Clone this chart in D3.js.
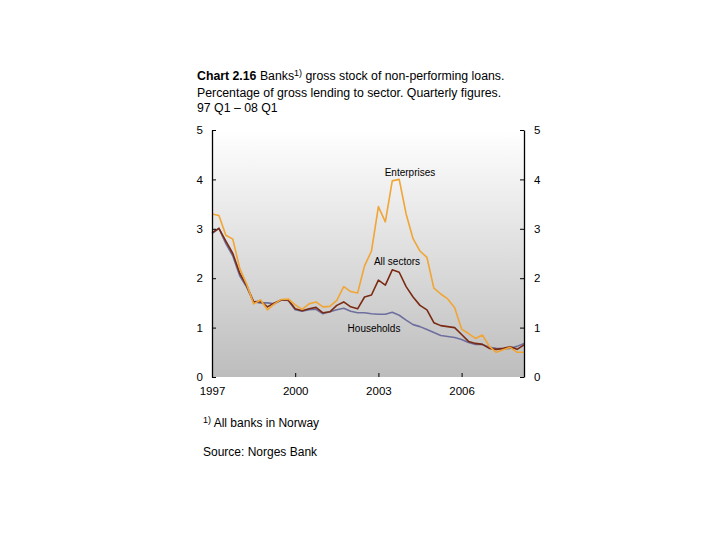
<!DOCTYPE html>
<html>
<head>
<meta charset="utf-8">
<style>
  body { margin: 0; background: #fff; }
  svg text { font-family: "Liberation Sans", Arial, sans-serif; fill: #000; }
</style>
</head>
<body>
<div id="viz_area"></div>
<script src="https://d3js.org/d3.v7.min.js"></script>
<script>
// quarters 1997 Q1 .. 2008 Q2 (index along the x axis)
var quarters = [];
for (var yr = 1997; yr <= 2008; yr++) {
  for (var q = 1; q <= 4; q++) {
    if (yr === 2008 && q > 2) break;
    quarters.push(yr + " Q" + q);
  }
}

var yearLabels = ["1997", "2000", "2003", "2006"];
var yearIndex  = [0, 12, 24, 36];
var yTicks = [0, 1, 2, 3, 4, 5];

var enterprises = [3.30, 3.27, 2.87, 2.79, 2.20, 1.88, 1.48, 1.56, 1.36, 1.48,
                   1.57, 1.58, 1.46, 1.37, 1.48, 1.52, 1.42, 1.43, 1.55, 1.83,
                   1.73, 1.70, 2.25, 2.55, 3.45, 3.14, 3.97, 4.00, 3.30, 2.80,
                   2.55, 2.42, 1.80, 1.68, 1.58, 1.40, 0.97, 0.88, 0.78, 0.85,
                   0.62, 0.50, 0.55, 0.60, 0.50, 0.50];

var allSectors = [2.92, 3.01, 2.75, 2.50, 2.10, 1.85, 1.52, 1.53, 1.42, 1.50,
                  1.56, 1.56, 1.38, 1.34, 1.38, 1.41, 1.30, 1.32, 1.45, 1.52,
                  1.42, 1.38, 1.62, 1.66, 1.96, 1.86, 2.17, 2.12, 1.83, 1.62,
                  1.45, 1.36, 1.10, 1.04, 1.02, 1.00, 0.86, 0.72, 0.68, 0.66,
                  0.58, 0.56, 0.58, 0.61, 0.56, 0.65];

var households = [2.90, 3.01, 2.70, 2.45, 2.05, 1.82, 1.52, 1.50, 1.50, 1.48,
                  1.56, 1.55, 1.36, 1.33, 1.36, 1.37, 1.28, 1.32, 1.36, 1.39,
                  1.33, 1.30, 1.30, 1.28, 1.27, 1.27, 1.31, 1.25, 1.15, 1.06,
                  1.02, 0.96, 0.90, 0.84, 0.82, 0.80, 0.76, 0.70, 0.66, 0.66,
                  0.60, 0.58, 0.57, 0.58, 0.62, 0.68];

var series = [
  {name: "Households",  values: households,  color: "#6f6f9f", label: [374, 332]},
  {name: "All sectors", values: allSectors,  color: "#7a2a12", label: [397, 265]},
  {name: "Enterprises", values: enterprises, color: "#f0a535", label: [410, 176]}
];

var W = 720, H = 540;
var plot = {left: 212, right: 524, top: 130, bottom: 377};

var svg = d3.select("#viz_area").append("svg")
    .attr("width", W).attr("height", H);

// background gradient of the plot area
var grad = svg.append("defs").append("linearGradient")
    .attr("id", "bg").attr("x1", 0).attr("y1", 0).attr("x2", 0).attr("y2", 1);
grad.append("stop").attr("offset", "0%").attr("stop-color", "#ffffff");
grad.append("stop").attr("offset", "100%").attr("stop-color", "#bdbdbd");

svg.append("rect")
    .attr("x", plot.left).attr("y", plot.top)
    .attr("width", plot.right - plot.left).attr("height", plot.bottom - plot.top)
    .attr("fill", "url(#bg)");

var x = d3.scaleLinear().domain([0, quarters.length - 1]).range([plot.left, plot.right]);
var y = d3.scaleLinear().domain([0, 5]).range([plot.bottom, plot.top]);

// title
var title = svg.append("text").attr("x", 197).attr("y", 80).style("font-size", "12.3px");
title.append("tspan").style("font-weight", "bold").text("Chart 2.16");
title.append("tspan").text(" Banks");
title.append("tspan").attr("dy", -4).style("font-size", "9px").text("1)");
title.append("tspan").attr("dy", 4).text(" gross stock of non-performing loans.");
svg.append("text").attr("x", 197).attr("y", 97).style("font-size", "12.3px")
    .text("Percentage of gross lending to sector. Quarterly figures.");
svg.append("text").attr("x", 197).attr("y", 112).style("font-size", "12.3px")
    .text("97 Q1 \u2013 08 Q1");

// lines
var line = d3.line()
    .x(function(d, i) { return x(i); })
    .y(function(d) { return y(d); });

series.forEach(function(s) {
  svg.append("path")
      .datum(s.values)
      .attr("fill", "none")
      .attr("stroke", s.color)
      .attr("stroke-width", 1.6)
      .attr("stroke-linejoin", "round")
      .attr("d", line);
  svg.append("text")
      .attr("x", s.label[0]).attr("y", s.label[1])
      .attr("text-anchor", "middle")
      .style("font-size", "10px")
      .text(s.name);
});

// axes
var fmt = d3.format("d");
var yl = svg.append("g").attr("transform", "translate(" + plot.left + ",0)")
    .call(d3.axisLeft(y).tickValues(yTicks).tickFormat(fmt)
      .tickSizeInner(-4).tickSizeOuter(0).tickPadding(9));
var yr2 = svg.append("g").attr("transform", "translate(" + plot.right + ",0)")
    .call(d3.axisRight(y).tickValues(yTicks).tickFormat(fmt)
      .tickSizeInner(-4).tickSizeOuter(0).tickPadding(10));

var xa = svg.append("g").attr("transform", "translate(0," + plot.bottom + ")")
    .call(d3.axisBottom(x).tickValues(yearIndex)
      .tickFormat(function(d, i) { return yearLabels[i]; })
      .tickSizeInner(-4).tickSizeOuter(0).tickPadding(10));
xa.select(".domain").remove();

[yl, yr2, xa].forEach(function(g) {
  g.selectAll("text").style("font-size", "11.5px")
      .style("font-family", "'Liberation Sans', Arial, sans-serif").attr("fill", "#000");
  g.selectAll("line").attr("stroke", "#000");
  g.selectAll(".domain").attr("stroke", "#000").attr("stroke-width", 1.3);
});

// footnotes
var fn = svg.append("text").attr("x", 203).attr("y", 427).style("font-size", "12px");
fn.append("tspan").attr("dy", -4).style("font-size", "9px").text("1)");
fn.append("tspan").attr("dy", 4).text(" All banks in Norway");
svg.append("text").attr("x", 203).attr("y", 456).style("font-size", "12px")
    .text("Source: Norges Bank");
</script>
</body>
</html>
